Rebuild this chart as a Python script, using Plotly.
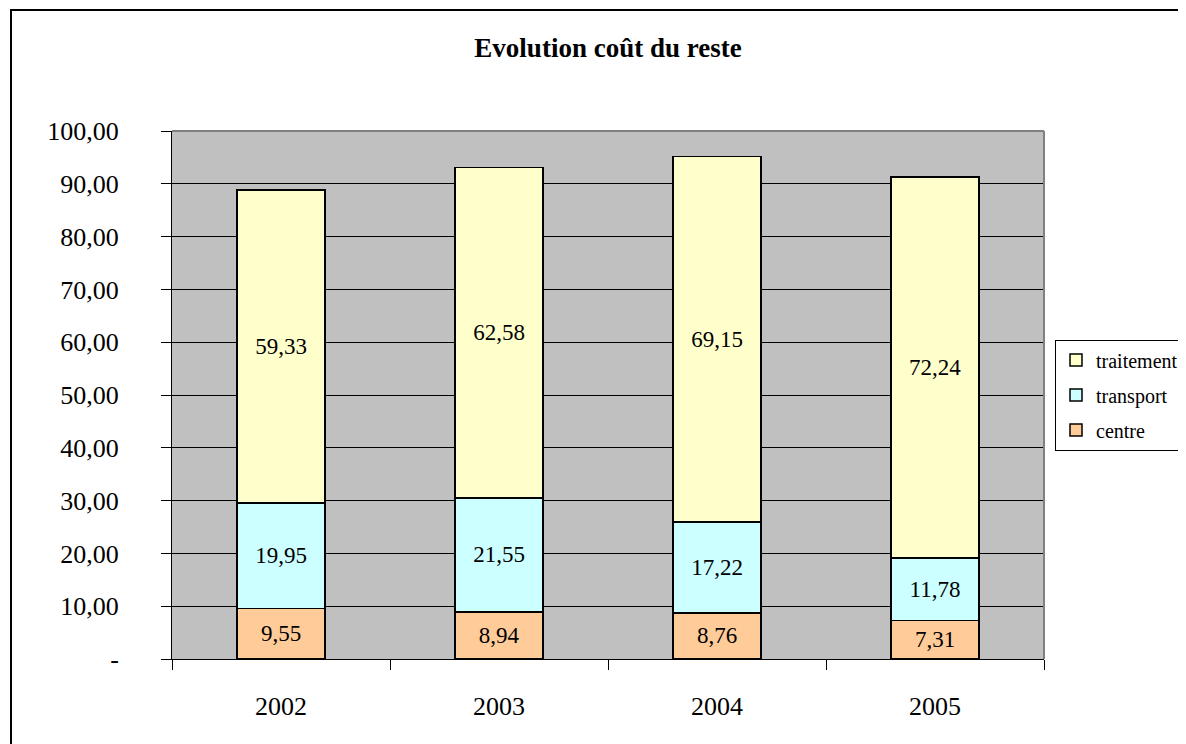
import plotly.graph_objects as go

# data
years = ["2002", "2003", "2004", "2005"]
centre = [9.55, 8.94, 8.76, 7.31]
transport = [19.95, 21.55, 17.22, 11.78]
traitement = [59.33, 62.58, 69.15, 72.24]

y_ticks = [0, 10, 20, 30, 40, 50, 60, 70, 80, 90, 100]
y_labels = ["-"] + [f"{v:.2f}".replace(".", ",") for v in y_ticks[1:]]

# stacking order bottom -> top, with legend rank (top of legend first)
series = [
    ("centre", centre, "#FFCC99", 3),
    ("transport", transport, "#CCFFFF", 2),
    ("traitement", traitement, "#FFFFCC", 1),
]

FONT = "Liberation Serif, serif"

# page body has an 8px margin, so the figure is a bit smaller than the window
W, H = 1178, 736

fig = go.Figure()
for name, vals, color, rank in series:
    fig.add_trace(go.Bar(
        x=years,
        y=vals,
        name=name,
        legendgroup=name,
        legendrank=rank,
        marker=dict(color=color, line=dict(color="black", width=1.5)),
        text=[f"{v:.2f}".replace(".", ",") for v in vals],
        textposition="inside",
        insidetextanchor="middle",
        textangle=0,
        textfont=dict(family=FONT, size=23, color="black"),
        hoverinfo="skip",
    ))

fig.update_layout(
    width=W,
    height=H,
    barmode="stack",
    bargap=0.596,
    plot_bgcolor="#C0C0C0",
    paper_bgcolor="white",
    margin=dict(l=164, r=142, t=123, b=85, autoexpand=False),
    font=dict(family=FONT, color="black"),
    uniformtext=dict(minsize=23, mode="show"),
    title=dict(
        text="<b>Evolution coût du reste</b>",
        x=600 / W, xanchor="center",
        y=1 - 40 / H, yanchor="middle",
        font=dict(family=FONT, size=27, color="black"),
    ),
    legend=dict(
        x=(1047 - 164) / 872, xanchor="left",
        y=0.5, yanchor="middle",
        traceorder="grouped",
        tracegroupgap=6,
        bgcolor="white",
        bordercolor="black",
        borderwidth=1,
        font=dict(family=FONT, size=20, color="black"),
    ),
    xaxis=dict(
        type="category",
        showgrid=False,
        showline=True, linecolor="black", linewidth=1,
        ticks="outside", tickson="boundaries", ticklen=10, tickcolor="black",
        ticklabelstandoff=24,
        tickfont=dict(family=FONT, size=26, color="black"),
    ),
    yaxis=dict(
        range=[0, 100],
        tickvals=y_ticks,
        ticktext=y_labels,
        showgrid=True, gridcolor="black", gridwidth=1,
        zeroline=False,
        showline=True, linecolor="black", linewidth=1,
        ticks="outside", ticklen=10, tickcolor="black",
        ticklabelstandoff=37,
        tickfont=dict(family=FONT, size=26, color="black"),
    ),
    shapes=[
        # grey frame on the top and right of the plot area
        dict(type="line", xref="paper", yref="paper", x0=0, x1=1, y0=1, y1=1,
             line=dict(color="#808080", width=2), layer="above"),
        dict(type="line", xref="paper", yref="paper", x0=1, x1=1, y0=0, y1=1,
             line=dict(color="#808080", width=2), layer="above"),
        # outer chart border
        dict(type="rect", xref="paper", yref="paper",
             x0=(3 - 164) / 872, x1=1.25, y0=-0.3, y1=(651 - 2) / 528,
             line=dict(color="black", width=2), fillcolor="rgba(0,0,0,0)"),
    ],
)

fig.write_html("out.html")
